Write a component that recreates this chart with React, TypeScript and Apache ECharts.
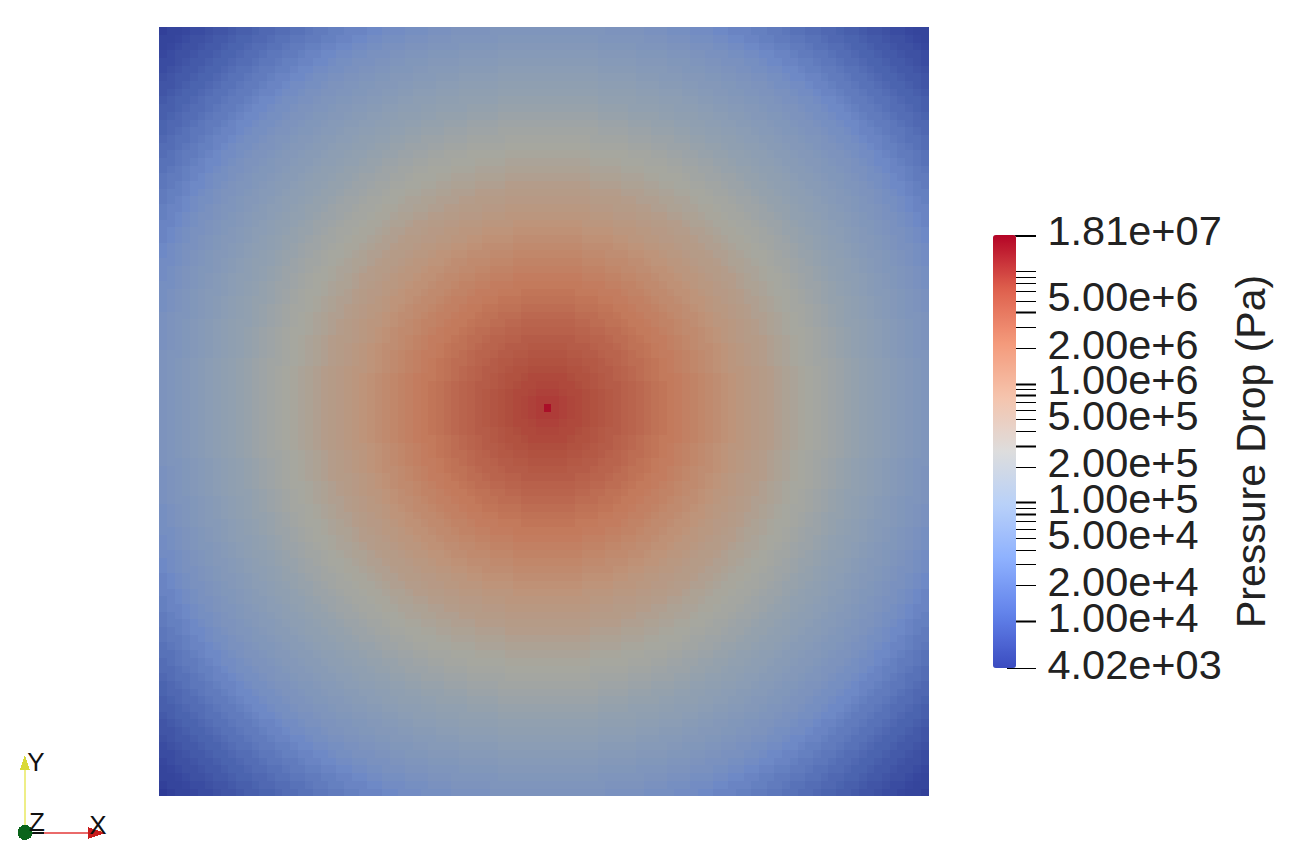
import React, { useEffect, useRef } from "react";
import * as echarts from "echarts";

const GRID_SIZE = 100;
const SOURCE_COLUMN = 50;
const SOURCE_ROW = 50;
const HEATMAP_CELLS = GRID_SIZE * GRID_SIZE;

// Pressure drop (Pa), one value per cell-distance ring from the source.
const RING_PRESSURE = [
  1.81e7, 8.6e6, 7.8e6, 7.2e6, 6.9e6, 6.3e6, 5.8e6, 5.4e6, 4.9e6, 4.5e6,
  4.0e6, 3.7e6, 3.4e6, 3.0e6, 2.7e6, 2.5e6, 2.2e6, 2.0e6, 1.75e6, 1.55e6,
  1.33e6, 1.17e6, 1.03e6, 8.8e5, 7.7e5, 6.8e5, 6.3e5, 5.7e5, 5.3e5, 4.9e5,
  4.1e5, 3.65e5, 3.3e5, 2.9e5, 2.7e5, 2.48e5, 2.18e5, 1.93e5, 1.7e5, 1.5e5,
  1.32e5, 1.16e5, 1.07e5, 9.8e4, 9.0e4, 8.3e4, 7.6e4, 7.0e4, 6.5e4, 5.9e4,
  5.5e4, 5.0e4, 4.4e4, 3.9e4, 3.3e4, 2.9e4, 2.56e4, 2.25e4, 2.0e4, 1.75e4,
  1.55e4, 1.36e4, 1.2e4, 1.06e4, 9.3e3, 8.2e3, 7.2e3, 6.4e3, 5.6e3, 5.2e3,
  4.6e3, 4.02e3, 4.02e3,
];

const P_MIN = 4.02e3;
const P_MAX = 1.81e7;

const LEGEND_COLORS = [
  "#3b4cc0", "#6282ea", "#8db0fe", "#b8d0f9", "#dddddd",
  "#f5c4ad", "#f49a7b", "#de604d", "#b40426",
];
const FIELD_COLORS = [
  "#2e3b96", "#4a62ae", "#6e89c6", "#8c9eb4", "#a6a79f",
  "#be947a", "#c37a5c", "#af4e3e", "#aa0f28",
];

const TICK_VALUES = [
  1.81e7, 9e6, 8e6, 7e6, 6e6, 5e6, 4e6, 3e6, 2e6,
  1e6, 9e5, 8e5, 7e5, 6e5, 5e5, 4e5, 3e5, 2e5,
  1e5, 9e4, 8e4, 7e4, 6e4, 5e4, 4e4, 3e4, 2e4, 1e4, 4.02e3,
];
const HEAVY_TICKS = [1.81e7, 4e6, 1e6, 8e5, 3e5, 1e5, 8e4, 1e4];
const LABEL_VALUES = [1.81e7, 5e6, 2e6, 1e6, 5e5, 2e5, 1e5, 5e4, 2e4, 1e4, 4.02e3];
const LABEL_TEXTS = [
  "1.81e+07", "5.00e+6", "2.00e+6", "1.00e+6", "5.00e+5", "2.00e+5",
  "1.00e+5", "5.00e+4", "2.00e+4", "1.00e+4", "4.02e+03",
];
const BAR_TITLE = "Pressure Drop (Pa)";

const FONT = '"Liberation Sans", Arial, sans-serif';

export default function App() {
  const ref = useRef<HTMLDivElement | null>(null);

  useEffect(() => {
    document.body.style.margin = "0";
    const chart = echarts.init(ref.current!, undefined, { renderer: "svg" });

    const cells: number[][] = [];
    for (let i = 0; i < GRID_SIZE; i++) {
      for (let j = 0; j < GRID_SIZE; j++) {
        const ring = Math.round(Math.hypot(i - SOURCE_COLUMN, j - SOURCE_ROW));
        cells.push([i, j, Math.log10(RING_PRESSURE[ring])]);
      }
    }
    const cats = Array.from({ length: GRID_SIZE }, (_, i) => String(i));
    const logMin = Math.log10(P_MIN);
    const logMax = Math.log10(P_MAX);

    chart.setOption({
      animation: false,
      backgroundColor: "#ffffff",
      grid: [
        { left: 159.5, top: 27, width: 769, height: 769 },
        { left: 1007, top: 234.5, width: 29, height: 433.5 },
      ],
      xAxis: [
        { type: "category", data: cats, show: false, gridIndex: 0 },
        { type: "value", min: 0, max: 1, show: false, gridIndex: 1 },
      ],
      yAxis: [
        { type: "category", data: cats, show: false, gridIndex: 0 },
        { type: "log", logBase: 10, min: P_MIN, max: P_MAX, show: false, gridIndex: 1 },
      ],
      visualMap: [
        {
          type: "continuous",
          show: false,
          seriesIndex: 0,
          dimension: 2,
          min: logMin,
          max: logMax,
          inRange: { color: FIELD_COLORS },
        },
        {
          type: "continuous",
          show: true,
          seriesIndex: 1,
          dimension: 0,
          min: 0,
          max: 1,
          calculable: false,
          realtime: false,
          left: 993,
          top: 235,
          padding: 0,
          itemWidth: 23,
          itemHeight: 433,
          text: ["", ""],
          showLabel: false,
          inRange: { color: LEGEND_COLORS },
        },
      ],
      series: [
        {
          type: "heatmap",
          data: cells,
          xAxisIndex: 0,
          yAxisIndex: 0,
          progressive: 0,
          emphasis: { disabled: true },
          itemStyle: { borderWidth: 0 },
        },
        {
          type: "custom",
          xAxisIndex: 1,
          yAxisIndex: 1,
          silent: true,
          data: TICK_VALUES.map((v) => [0, v]),
          renderItem: (_p: any, api: any) => {
            const v = api.value(1);
            const a = api.coord([0, v]);
            const b = api.coord([1, v]);
            const y = Math.round(a[1]) + 0.5;
            return {
              type: "line",
              shape: { x1: a[0], y1: y, x2: b[0], y2: y },
              style: { stroke: "#000", lineWidth: HEAVY_TICKS.includes(v) ? 2 : 1 },
            };
          },
        },
        {
          type: "custom",
          xAxisIndex: 1,
          yAxisIndex: 1,
          silent: true,
          data: LABEL_VALUES.map((v, i) => [i, v]),
          renderItem: (_p: any, api: any) => {
            const i = api.value(0);
            const p = api.coord([0, api.value(1)]);
            return {
              type: "text",
              style: {
                text: LABEL_TEXTS[i],
                x: 1047.5,
                y: p[1] - 4,
                fill: "#222222",
                font: `41.5px ${FONT}`,
                textAlign: "left",
                textVerticalAlign: "middle",
              },
            };
          },
        },
      ],
      graphic: [
        {
          type: "text",
          x: 1251,
          y: 451.5,
          rotation: Math.PI / 2,
          style: {
            text: BAR_TITLE,
            fill: "#222222",
            font: `41px ${FONT}`,
            textAlign: "center",
            textVerticalAlign: "middle",
          },
        },
        { type: "line", shape: { x1: 25, y1: 832, x2: 25, y2: 768 }, style: { stroke: "#eeee88", lineWidth: 2 } },
        { type: "polygon", shape: { points: [[25, 755], [20, 770], [30, 770]] }, style: { fill: "#d9d936" } },
        { type: "line", shape: { x1: 30, y1: 832.5, x2: 90, y2: 832.5 }, style: { stroke: "#ea6a6a", lineWidth: 2 } },
        { type: "line", shape: { x1: 30, y1: 832.5, x2: 44, y2: 832.5 }, style: { stroke: "#111", lineWidth: 2 } },
        { type: "polygon", shape: { points: [[105, 833], [88, 827], [88, 839]] }, style: { fill: "#c81c1c" } },
        { type: "circle", shape: { cx: 25, cy: 832.5, r: 7.5 }, style: { fill: "#0a641a" } },
        { type: "text", x: 36, y: 762, style: { text: "Y", fill: "#111", font: `26px ${FONT}`, textAlign: "center", textVerticalAlign: "middle" } },
        { type: "text", x: 37, y: 822, style: { text: "Z", fill: "#111", font: `26px ${FONT}`, textAlign: "center", textVerticalAlign: "middle" } },
        { type: "text", x: 98, y: 825, style: { text: "X", fill: "#111", font: `26px ${FONT}`, textAlign: "center", textVerticalAlign: "middle" } },
      ],
    });

    // Antialiased edges between neighbouring heatmap cells show the white page as hairlines.
    const paths = ref.current!.querySelectorAll("svg path");
    paths.forEach((p, idx) => {
      if (idx < HEATMAP_CELLS + 10) p.setAttribute("shape-rendering", "crispEdges");
    });

    return () => chart.dispose();
  }, []);

  return <div ref={ref} style={{ position: "fixed", left: 0, top: 0, width: 1304, height: 857 }} />;
}
